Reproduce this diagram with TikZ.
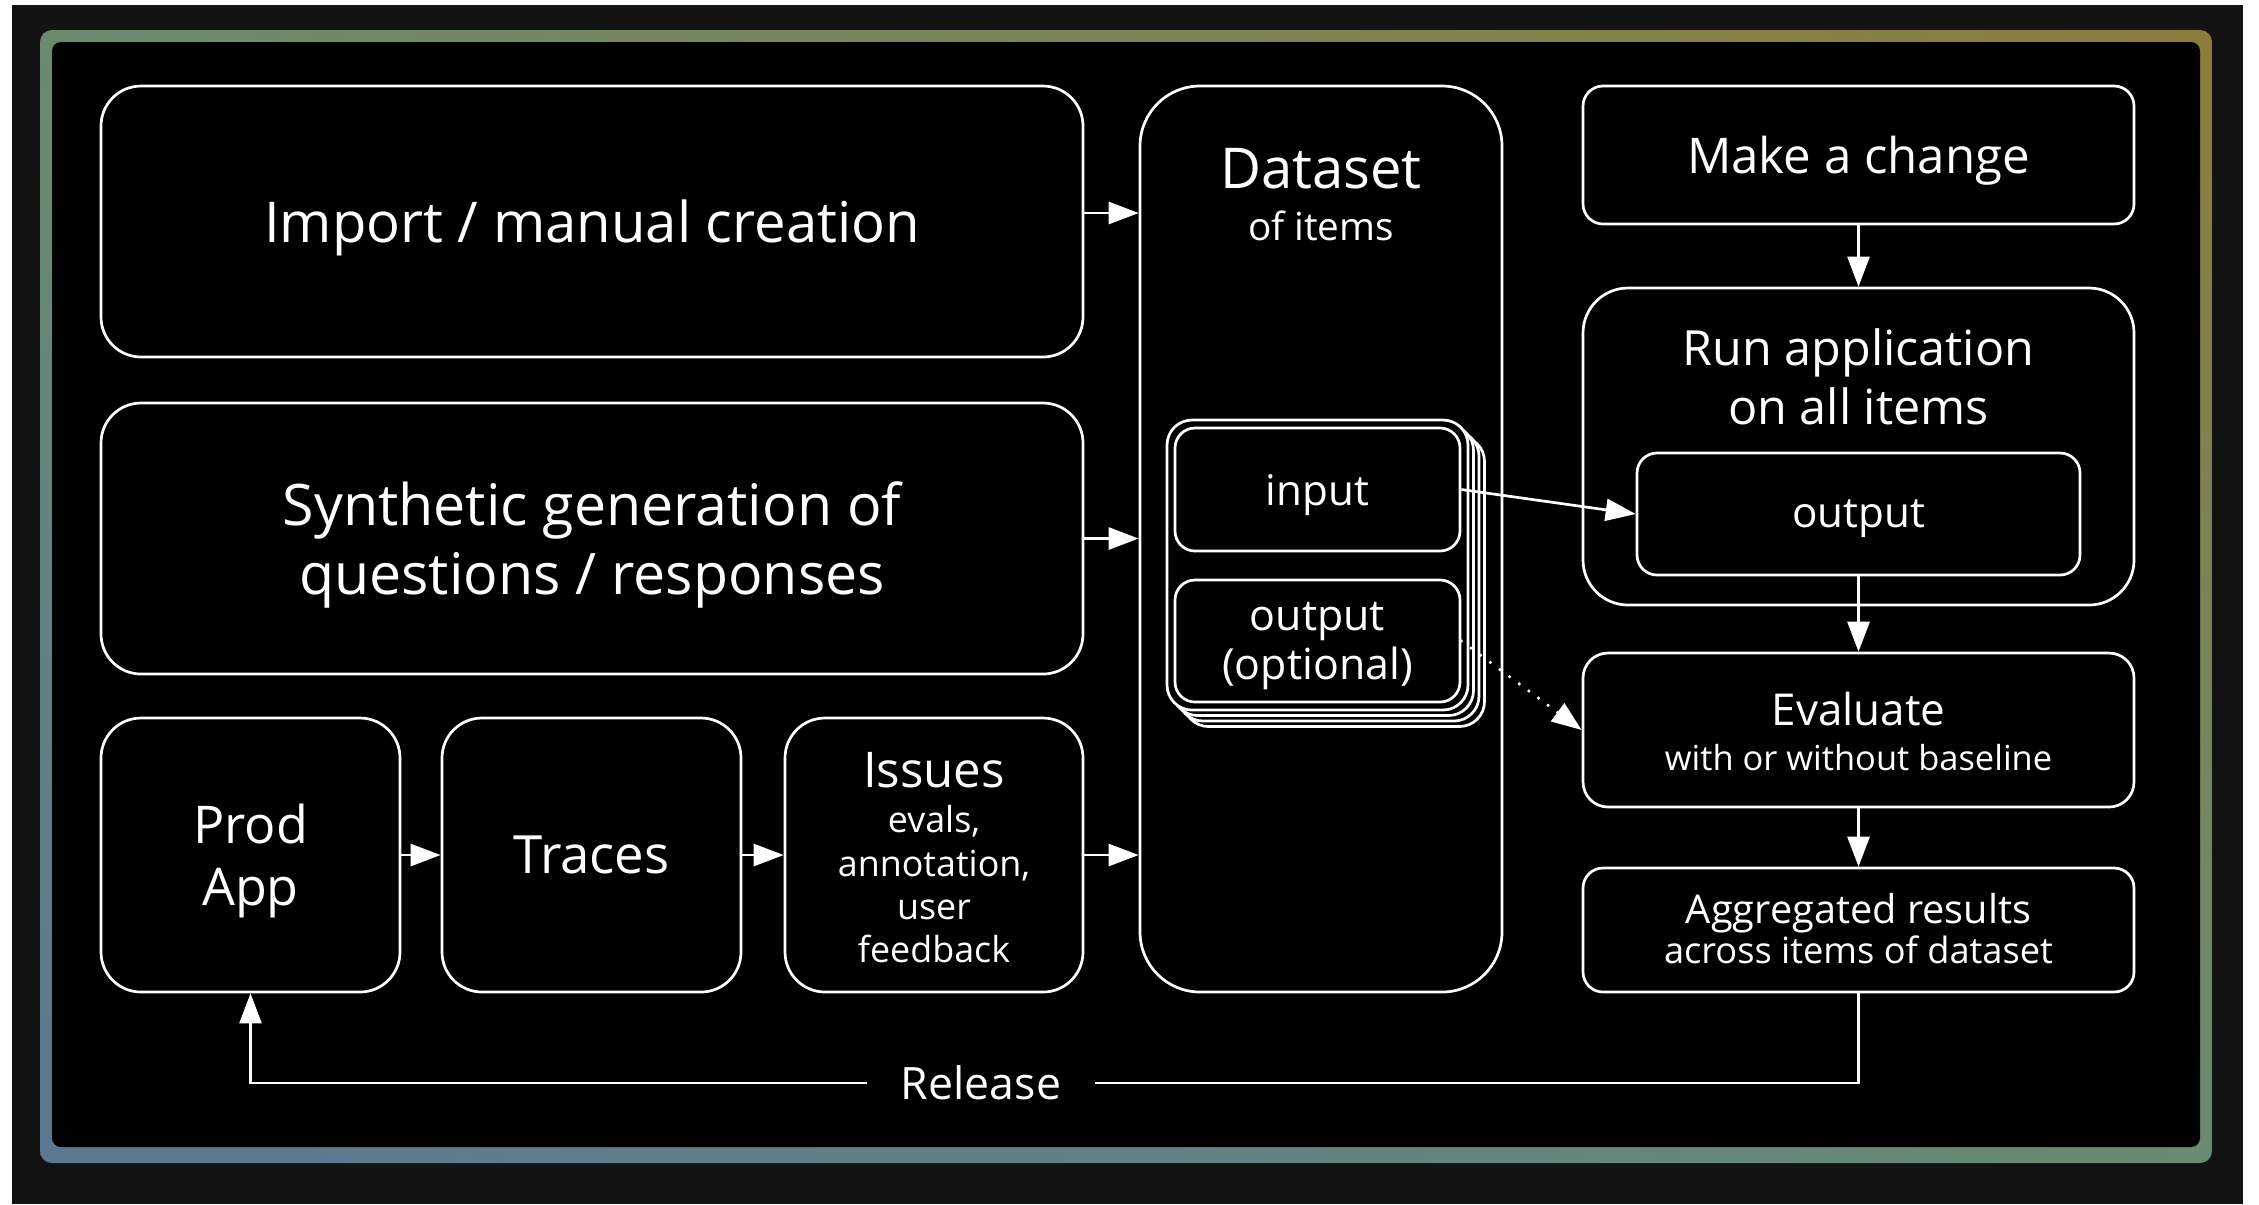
\documentclass[tikz,border=0pt]{standalone}
\usepackage{fontspec}
\setmainfont{Open Sans}
\usetikzlibrary{positioning}
\usetikzlibrary{arrows.meta}
\usetikzlibrary{shadings}
\usetikzlibrary{math}
\usetikzlibrary{calc}

\definecolor{pagegray}{HTML}{131313}
\definecolor{frameTL}{HTML}{6B8B6F}
\definecolor{frameTR}{HTML}{8C7D3A}
\definecolor{frameBL}{HTML}{5A7892}
\definecolor{frameBR}{HTML}{6A8A73}

\begin{document}
\begin{tikzpicture}[x=0.1mm, y=-0.1mm,
  every node/.style={text=white},
  box/.style={draw=white, line width=0.27mm, fill=black, rounded corners=#1,
    inner sep=0pt, text depth=0pt},
  box/.default=4mm,
  arr/.style={draw=white, line width=0.27mm, -{Triangle[length=3mm, width=2.2mm]}},
  dotline/.style={dash pattern=on 0pt off 1.2mm, line cap=round, line width=0.35mm}]

  \tikzmath{
    \stackshift = 5.5; % offset of the cards behind the item
    \relY       = 1083; % height of the release line
  }

  % page and frame
  \useasboundingbox (0,0) rectangle (2259,1204);
  \fill[white] (0,0) rectangle (2259,1204);
  \fill[pagegray] (12,5) rectangle (2243,1204);
  \shade[rounded corners=1.2mm, upper left=frameTL, upper right=frameTR,
    lower left=frameBL, lower right=frameBR] (40,30) rectangle (2212,1163);
  \fill[black, rounded corners=0.9mm] (52,42) rectangle (2200,1147);

  % sources on the left
  \node[box, minimum width=98.2mm, minimum height=27.1mm,
    font=\fontsize{16}{19.6}\selectfont] (import) at (592,221.5) {Import / manual creation};
  \node[box, minimum width=98.2mm, minimum height=27.1mm, align=center,
    font=\fontsize{16.3}{19.6}\selectfont] (synth) at (592,538.5) {Synthetic generation of\\questions / responses};
  \node[box, minimum width=29.9mm, minimum height=27.4mm, align=center,
    font=\fontsize{14.8}{17.6}\selectfont] (prod) at (250.5,855) {Prod\\App};
  \node[box, minimum width=29.9mm, minimum height=27.4mm,
    font=\fontsize{15}{18}\selectfont] (traces) at (591.5,855) {Traces};
  \node[box, minimum width=29.8mm, minimum height=27.4mm] (issues) at (934,855) {};
  \node[anchor=base, font=\fontsize{14}{17}\selectfont] (issuestitle) at (934,787) {Issues};
  \node[anchor=north, inner sep=0pt, align=center,
    font=\fontsize{10.2}{12.3}\selectfont] (issuesnote) at (934,805) {evals,\\annotation,\\user\\feedback};

  % dataset with its stacked items
  \node[box=6mm, minimum width=36.2mm, minimum height=90.6mm] (dataset) at (1321,539) {};
  \node[anchor=base, font=\fontsize{16}{19}\selectfont] (datasettitle) at (1321,188) {Dataset};
  \node[anchor=base, font=\fontsize{11}{13}\selectfont] (datasetnote) at (1321,240) {of items};

  \foreach \k in {3,2,1} {
    \node[box=2.5mm, minimum width=30.1mm, minimum height=29mm]
      (stack\k) at ({1317.5+\k*\stackshift}, {565+\k*\stackshift}) {};
  }
  \node[box=2.5mm, minimum width=30.1mm, minimum height=29mm] (stack) at (1317.5,565) {};
  \node[box=2mm, minimum width=28.5mm, minimum height=12.3mm,
    font=\fontsize{12}{14}\selectfont] (input) at (1317.5,489.5) {input};
  \node[box=2mm, minimum width=28.5mm, minimum height=12.2mm, align=center,
    font=\fontsize{12.2}{13.9}\selectfont] (outopt) at (1317.5,641) {output\\(optional)};

  % experiment loop on the right
  \node[box=2mm, minimum width=55.1mm, minimum height=13.8mm,
    font=\fontsize{14}{17}\selectfont] (change) at (1858.5,155) {Make a change};
  \node[box=4.5mm, minimum width=55.1mm, minimum height=31.7mm] (runapp) at (1858.5,446.5) {};
  \node[anchor=base, font=\fontsize{13.8}{16}\selectfont] (runtitle) at (1858.5,365) {Run application};
  \node[anchor=base, font=\fontsize{13.8}{16}\selectfont] (runnote) at (1858.5,424) {on all items};
  \node[box=2mm, minimum width=44.3mm, minimum height=12.2mm,
    font=\fontsize{12}{14}\selectfont] (runout) at (1858.5,514) {output};
  \node[box=2.5mm, minimum width=55.1mm, minimum height=15.4mm] (evaluate) at (1858.5,730) {};
  \node[anchor=base, font=\fontsize{12.5}{15}\selectfont] (evaltitle) at (1858.5,725) {Evaluate};
  \node[anchor=base, font=\fontsize{9.8}{12}\selectfont] (evalnote) at (1858.5,770) {with or without baseline};
  \node[box=2mm, minimum width=55.1mm, minimum height=12.4mm] (agg) at (1858.5,930) {};
  \node[anchor=base, font=\fontsize{11.3}{13.5}\selectfont] (aggtitle) at (1858.5,923) {Aggregated results};
  \node[anchor=base, font=\fontsize{10.3}{12.5}\selectfont] (aggnote) at (1858.5,963) {across items of dataset};

  % arrows into the dataset
  \draw[arr] ($(import.east)+(0,-8.5)$) -- ($(import.east -| dataset.west)+(0,-8.5)$);
  \draw[arr] (synth.east) -- (synth.east -| dataset.west);
  \draw[arr] (prod.east) -- (traces.west);
  \draw[arr] (traces.east) -- (issues.west);
  \draw[arr] (issues.east) -- (issues.east -| dataset.west);

  % arrows of the loop
  \draw[arr] (input.east) -- (runout.west);
  \draw[arr, dotline] (outopt.east) -- (evaluate.west);
  \draw[arr] (change.south) -- (runapp.north);
  \draw[arr] (runout.south) -- (evaluate.north);
  \draw[arr] (evaluate.south) -- (agg.north);

  % release back to the app
  \coordinate (relcorner) at (250.5,\relY);
  \draw[arr] (agg.south) |- (relcorner) -- (prod.south);
  \node[fill=black, inner xsep=3.4mm, font=\fontsize{12.7}{15}\selectfont] (release) at (981,\relY) {Release};

\end{tikzpicture}
\end{document}
